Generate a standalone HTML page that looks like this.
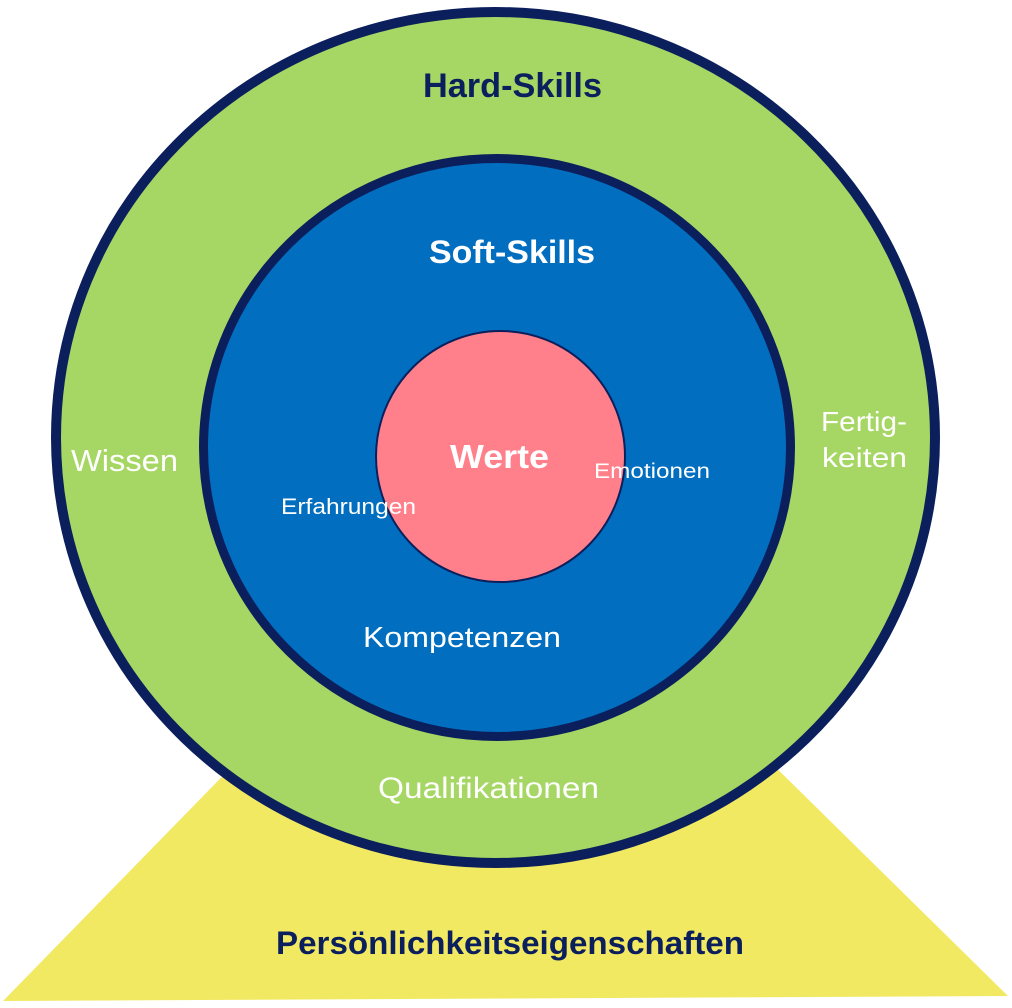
<!DOCTYPE html>
<html>
<head>
<meta charset="utf-8">
<style>
  html,body{margin:0;padding:0;background:#ffffff;}
  svg{display:block;}
  text{font-family:"Liberation Sans", "DejaVu Sans", sans-serif;}
</style>
</head>
<body>
<svg width="1012" height="1008" viewBox="0 0 1012 1008" xmlns="http://www.w3.org/2000/svg">
  <rect x="0" y="0" width="1012" height="1008" fill="#ffffff"/>
  <!-- yellow triangle -->
  <polygon points="3,1001 1008,996 498,494" fill="#F2E963"/>
  <!-- outer green circle -->
  <ellipse cx="495.5" cy="437.5" rx="439.5" ry="425.5" fill="#A6D664" stroke="#0B1F5C" stroke-width="10"/>
  <!-- inner blue circle -->
  <ellipse cx="497" cy="447.5" rx="293.5" ry="289" fill="#016EBF" stroke="#0B1F5C" stroke-width="9"/>
  <!-- pink center -->
  <ellipse cx="500.5" cy="456.5" rx="124.5" ry="125.5" fill="#FF7F8A" stroke="#0B1F5C" stroke-width="2"/>

  <text x="423" y="97" font-size="34" font-weight="bold" fill="#0B1F5C" textLength="179" lengthAdjust="spacingAndGlyphs">Hard-Skills</text>
  <text x="429" y="263" font-size="32" font-weight="bold" fill="#ffffff" textLength="166" lengthAdjust="spacingAndGlyphs">Soft-Skills</text>
  <text x="450" y="468" font-size="33" font-weight="bold" fill="#ffffff" textLength="99" lengthAdjust="spacingAndGlyphs">Werte</text>
  <text x="594" y="478" font-size="21" fill="#ffffff" textLength="116" lengthAdjust="spacingAndGlyphs">Emotionen</text>
  <text x="281" y="514" font-size="22" fill="#ffffff" textLength="135" lengthAdjust="spacingAndGlyphs">Erfahrungen</text>
  <text x="71" y="471" font-size="31" fill="#ffffff" textLength="107" lengthAdjust="spacingAndGlyphs">Wissen</text>
  <text x="821" y="431" font-size="28" fill="#ffffff" textLength="86" lengthAdjust="spacingAndGlyphs">Fertig-</text>
  <text x="822" y="467" font-size="28" fill="#ffffff" textLength="85" lengthAdjust="spacingAndGlyphs">keiten</text>
  <text x="363" y="647" font-size="29" fill="#ffffff" textLength="198" lengthAdjust="spacingAndGlyphs">Kompetenzen</text>
  <text x="378" y="798" font-size="30" fill="#ffffff" textLength="221" lengthAdjust="spacingAndGlyphs">Qualifikationen</text>
  <text x="276" y="954" font-size="32" font-weight="bold" fill="#0B1F5C" textLength="468" lengthAdjust="spacingAndGlyphs">Persönlichkeitseigenschaften</text>
</svg>
</body>
</html>
